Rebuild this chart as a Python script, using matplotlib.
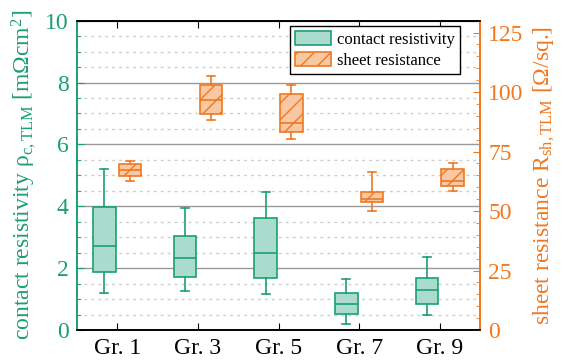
import numpy as np
import matplotlib
matplotlib.use("Agg")
import matplotlib.pyplot as plt
from matplotlib.patches import Patch
from matplotlib.ticker import MultipleLocator

plt.rcParams['font.family'] = ['Liberation Serif', 'DejaVu Serif']
plt.rcParams['mathtext.fontset'] = 'custom'
plt.rcParams['mathtext.rm'] = 'Liberation Serif'
plt.rcParams['mathtext.it'] = 'Liberation Serif:italic'
plt.rcParams['hatch.linewidth'] = 1.0

green = '#1b9e77'
green_fill = '#a9dccc'
orange = '#f07820'
orange_fill = '#f8c8a2'

groups = ['Gr. 1', 'Gr. 3', 'Gr. 5', 'Gr. 7', 'Gr. 9']

# contact resistivity [mOhm cm^2]: whisker low, q1, median, q3, whisker high
rc_low = [1.21, 1.25, 1.16, 0.19, 0.47]
rc_q1 = [1.89, 1.70, 1.68, 0.51, 0.85]
rc_med = [2.73, 2.33, 2.49, 0.84, 1.29]
rc_q3 = [3.97, 3.05, 3.61, 1.21, 1.69]
rc_high = [5.20, 3.94, 4.46, 1.64, 2.37]

# sheet resistance [Ohm/sq.]
rsh_low = [62.6, 88.4, 80.1, 50.0, 58.5]
rsh_q1 = [64.6, 90.6, 83.1, 53.7, 60.6]
rsh_med = [67.1, 96.8, 86.8, 55.0, 62.6]
rsh_q3 = [69.6, 102.8, 99.3, 57.9, 67.5]
rsh_high = [71.0, 106.7, 102.9, 66.3, 70.3]


def make_stats(lo, q1, med, q3, hi):
    return [dict(whislo=a, q1=b, med=c, q3=d, whishi=e, fliers=[])
            for a, b, c, d, e in zip(lo, q1, med, q3, hi)]


fig = plt.figure(figsize=(5.63, 3.6), dpi=100)
ax = fig.add_axes([0.1368, 0.0833, 0.7158, 0.8592])
ax2 = ax.twinx()

x = np.arange(len(groups))
off = 0.16
w = 0.28

ax.bxp(make_stats(rc_low, rc_q1, rc_med, rc_q3, rc_high), positions=x - off,
       widths=w, patch_artist=True, showfliers=False, capwidths=0.1,
       boxprops=dict(facecolor=green_fill, edgecolor=green, linewidth=1.2),
       medianprops=dict(color=green, linewidth=1.2),
       whiskerprops=dict(color=green, linewidth=1.2),
       capprops=dict(color=green, linewidth=1.2), zorder=3)

ax2.bxp(make_stats(rsh_low, rsh_q1, rsh_med, rsh_q3, rsh_high), positions=x + off,
        widths=w, patch_artist=True, showfliers=False, capwidths=0.1,
        boxprops=dict(facecolor=orange_fill, edgecolor=orange, linewidth=1.2, hatch='//'),
        medianprops=dict(color=orange, linewidth=1.2),
        whiskerprops=dict(color=orange, linewidth=1.2),
        capprops=dict(color=orange, linewidth=1.2), zorder=3)

ax.set_xlim(-0.5, 4.5)
ax.set_ylim(0, 10)
ax2.set_ylim(0, 130)
ax.set_xticks(x)
ax.set_xticklabels(groups, fontsize=17)

ax.yaxis.set_major_locator(MultipleLocator(2))
ax.yaxis.set_minor_locator(MultipleLocator(0.5))
ax2.yaxis.set_major_locator(MultipleLocator(25))
ax2.yaxis.set_minor_locator(MultipleLocator(5))

ax.grid(True, which='major', axis='y', color='#999999', linewidth=1.0, zorder=0)
ax.grid(True, which='minor', axis='y', color='#cccccc', linewidth=1.0,
        linestyle=(0, (2, 3)), zorder=0)
ax.set_axisbelow(True)

ax.tick_params(axis='x', which='both', direction='in', top=True, length=5,
               color='black', pad=6)
ax.tick_params(axis='y', which='major', direction='in', length=5, colors=green,
               labelsize=17, pad=6)
ax.tick_params(axis='y', which='minor', direction='in', length=3, colors=green)
ax2.tick_params(axis='y', which='major', direction='in', length=5, colors=orange,
                labelsize=17, pad=6)
ax2.tick_params(axis='y', which='minor', direction='in', length=3, colors=orange)

for a in (ax, ax2):
    a.spines['left'].set_color(green)
    a.spines['right'].set_color(orange)
    a.spines['top'].set_color('black')
    a.spines['bottom'].set_color('black')
    for s in a.spines.values():
        s.set_linewidth(1.2)

ax.set_ylabel('contact resistivity ρ$_\\mathrm{c,TLM}$ [mΩcm$^2$]',
              color=green, fontsize=17, labelpad=5)
ax2.set_ylabel('sheet resistance R$_\\mathrm{sh,TLM}$ [Ω/sq.]',
               color=orange, fontsize=17, labelpad=6)

handles = [Patch(facecolor=green_fill, edgecolor=green, linewidth=1.2,
                 label='contact resistivity'),
           Patch(facecolor=orange_fill, edgecolor=orange, linewidth=1.2, hatch='//',
                 label='sheet resistance')]
leg = ax2.legend(handles=handles, loc='upper right', bbox_to_anchor=(0.95, 0.983),
                 fontsize=12, frameon=True, fancybox=False, borderaxespad=0,
                 handlelength=2.15, handleheight=0.95, borderpad=0.3,
                 labelspacing=0.25, handletextpad=0.35)
leg.get_frame().set_edgecolor('black')
leg.get_frame().set_linewidth(1.0)
leg.get_frame().set_alpha(1)

fig.savefig('out.png', dpi=100)
